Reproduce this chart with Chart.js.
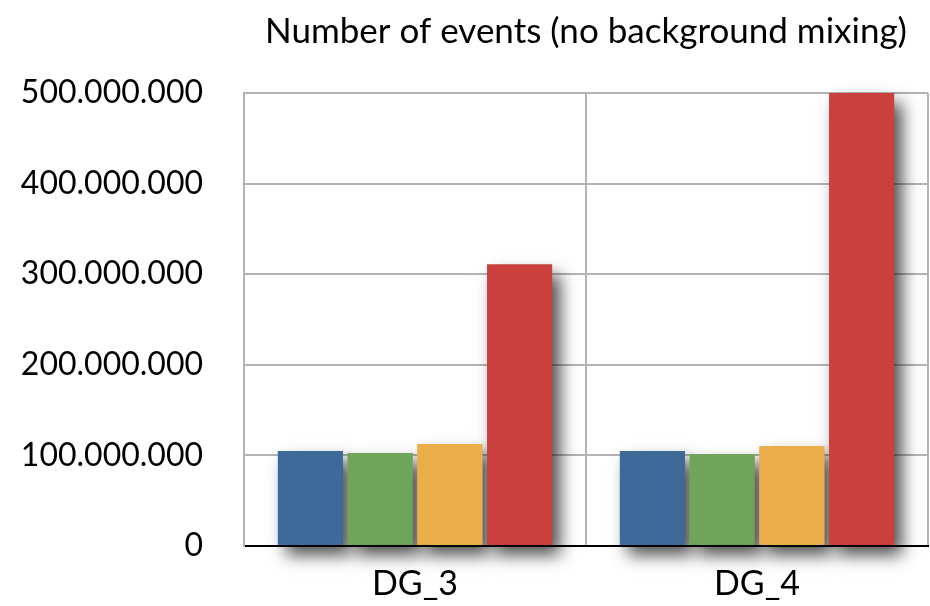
<!DOCTYPE html>
<html>
<head>
<meta charset="utf-8">
<script src="https://cdn.jsdelivr.net/npm/chart.js@4"></script>
<style>
  html, body { margin: 0; padding: 0; background: #ffffff; }
  #wrap { width: 930px; height: 606px; }
</style>
</head>
<body>
<div id="wrap"><canvas id="c" width="930" height="606"></canvas></div>
<script>
// Event counts per data generator, four samples each
const categories = ['DG_3', 'DG_4'];
const seriesNames = ['Sample 1', 'Sample 2', 'Sample 3', 'Sample 4'];
const sample1 = [104600000, 104600000];
const sample2 = [102400000, 101300000];
const sample3 = [112300000, 110100000];
const sample4 = [310600000, 500000000];
const seriesColors = ['#3d6a99', '#6ea55a', '#ecae4b', '#c9403d'];
const yTicks = [0, 100000000, 200000000, 300000000, 400000000, 500000000];

const FONT = 'Lato, "Open Sans", sans-serif';

function dotted(v) {
  return String(Math.round(v)).replace(/\B(?=(\d{3})+(?!\d))/g, '.');
}

// Soft drop shadow cast behind every bar
const barShadow = {
  id: 'barShadow',
  beforeDatasetsDraw(chart) {
    const ctx = chart.ctx;
    chart.getSortedVisibleDatasetMetas().forEach(meta => {
      meta.data.forEach(el => {
        const p = el.getProps(['x', 'y', 'base', 'width'], true);
        ctx.save();
        ctx.shadowColor = 'rgba(0,0,0,0.7)';
        ctx.shadowBlur = 16;
        ctx.shadowOffsetX = 8;
        ctx.shadowOffsetY = 10;
        ctx.fillStyle = el.options.backgroundColor;
        ctx.fillRect(p.x - p.width / 2, p.y, p.width, p.base - p.y);
        ctx.restore();
      });
    });
  }
};

const seriesData = [sample1, sample2, sample3, sample4];

new Chart(document.getElementById('c'), {
  type: 'bar',
  data: {
    labels: categories,
    datasets: seriesData.map((d, i) => ({
      label: seriesNames[i],
      data: d,
      backgroundColor: seriesColors[i],
      borderWidth: 0,
      barPercentage: 0.93,
      categoryPercentage: 0.816
    }))
  },
  options: {
    responsive: false,
    animation: false,
    layout: { padding: { left: 0, right: 2, top: 0, bottom: 0 } },
    plugins: {
      legend: { display: false },
      tooltip: { enabled: false },
      title: {
        display: true,
        text: 'Number of events (no background mixing)',
        fullSize: false,
        color: '#000000',
        font: { family: FONT, size: 35, weight: 'normal', lineHeight: 1.2 },
        padding: { top: 11, bottom: 40 }
      }
    },
    scales: {
      x: {
        grid: { color: '#b3b3b3', lineWidth: 2, drawTicks: false, offset: true },
        border: { color: '#000000', width: 2 },
        ticks: {
          color: '#000000',
          padding: 18,
          font: { family: FONT, size: 34 }
        },
        afterFit(scale) { scale.height = 59; }
      },
      y: {
        min: 0,
        max: 500000000,
        grid: { color: '#b3b3b3', lineWidth: 2, drawTicks: false },
        border: { color: '#b3b3b3', width: 2 },
        afterBuildTicks(scale) { scale.ticks = yTicks.map(v => ({ value: v })); },
        ticks: {
          color: '#000000',
          padding: 41,
          font: { family: FONT, size: 32 },
          callback: v => dotted(v)
        },
        afterFit(scale) { scale.width = 244; }
      }
    }
  },
  plugins: [barShadow]
});
</script>
</body>
</html>
